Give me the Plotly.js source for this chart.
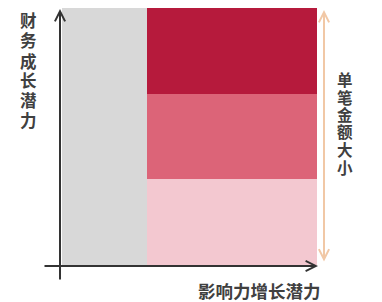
<!DOCTYPE html>
<html>
<head>
<meta charset="utf-8">
<script src="https://cdn.plot.ly/plotly-3.0.1.min.js"></script>
<style>html,body{margin:0;padding:0;background:#fff;}#chart{width:382px;height:302px;}</style>
</head>
<body>
<div id="chart"></div>
<script>
// Data
const grayColumn = {x: 0.5, width: 1, value: 3};
const redColumn = {x: 2, width: 2};
const segmentNames = ['小', '中', '大'];
const segmentValues = [1, 1, 1];
const segmentColors = ['#f3c8d0', '#dc6478', '#b61a3c'];
const yTitle = '财务成长潜力';
const xTitle = '影响力增长潜力';
const rightTitle = '单笔金额大小';

const traces = [{
  type: 'bar', x: [grayColumn.x], y: [grayColumn.value], width: [grayColumn.width],
  marker: {color: '#d8d8d8', line: {width: 0}}, hoverinfo: 'none', showlegend: false
}];
segmentNames.forEach((n, i) => {
  traces.push({
    type: 'bar', name: n, x: [redColumn.x], y: [segmentValues[i]], width: [redColumn.width],
    marker: {color: segmentColors[i], line: {width: 0}}, hoverinfo: 'none', showlegend: false
  });
});

const L = 62, R = 317, T = 8, B = 265;
const W = 382, H = 302;
const px = p => (p - L) / (R - L);
const py = p => (B - p) / (B - T);
const fontOf = (s, fam) => ({family: fam || 'Noto Sans CJK SC', size: s, color: '#404040', weight: 'bold'});
const vFam = 'Liberation Sans, Noto Sans CJK SC';

const annotations = [
  // y axis arrow
  {xref: 'paper', yref: 'paper', x: px(60), y: py(9), ax: px(60), ay: py(281), axref: 'paper', ayref: 'paper',
   text: '', showarrow: true, arrowhead: 5, arrowsize: 1, arrowwidth: 2, arrowcolor: '#333', standoff: 0, startstandoff: 0},
  // x axis arrow
  {xref: 'paper', yref: 'paper', x: px(318), y: py(266), ax: px(43), ay: py(266), axref: 'paper', ayref: 'paper',
   text: '', showarrow: true, arrowhead: 5, arrowsize: 1, arrowwidth: 2, arrowcolor: '#333', standoff: 0, startstandoff: 0},
  // orange double arrow
  {xref: 'paper', yref: 'paper', x: px(324), y: py(10), ax: px(324), ay: py(263), axref: 'paper', ayref: 'paper',
   text: '', showarrow: true, arrowhead: 5, startarrowhead: 5, arrowside: 'end+start', arrowsize: 1, startarrowsize: 1,
   arrowwidth: 2, arrowcolor: '#f1c8a6', standoff: 0, startstandoff: 0},
  {xref: 'paper', yref: 'paper', x: px(323), y: py(290), text: xTitle, showarrow: false,
   font: fontOf(17.5), xanchor: 'right', yanchor: 'middle'}
];
// vertical titles: one character per line
yTitle.split('').forEach((c, i) => annotations.push({
  xref: 'paper', yref: 'paper', x: px(28), y: py(21 + i * 20), text: c, showarrow: false,
  font: fontOf(16.5, vFam), xanchor: 'center', yanchor: 'middle'
}));
rightTitle.split('').forEach((c, i) => annotations.push({
  xref: 'paper', yref: 'paper', x: px(345), y: py(80 + i * 17.6), text: c, showarrow: false,
  font: fontOf(15.5, vFam), xanchor: 'center', yanchor: 'middle'
}));

const layout = {
  width: W, height: H,
  margin: {l: L, r: W - R, t: T, b: H - B, pad: 0},
  paper_bgcolor: '#fff', plot_bgcolor: '#fff',
  barmode: 'stack', bargap: 0,
  xaxis: {range: [0, 3], showgrid: false, zeroline: false, showticklabels: false, ticks: '', showline: false, fixedrange: true},
  yaxis: {range: [0, 3], showgrid: false, zeroline: false, showticklabels: false, ticks: '', showline: false, fixedrange: true},
  annotations: annotations,
  showlegend: false
};

Plotly.newPlot('chart', traces, layout, {displayModeBar: false, staticPlot: true});
</script>
</body>
</html>
